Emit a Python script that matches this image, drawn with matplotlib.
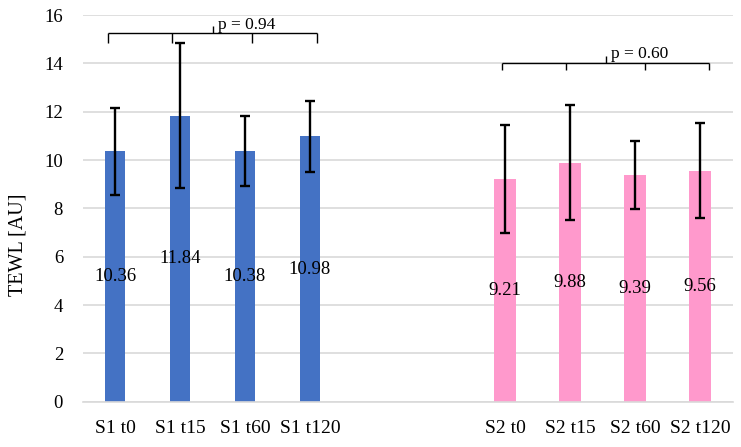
import numpy as np
import matplotlib.pyplot as plt

plt.rcParams['font.family'] = ['Liberation Serif', 'DejaVu Serif']

# data
labels = ["S1 t0", "S1 t15", "S1 t60", "S1 t120", "", "",
          "S2 t0", "S2 t15", "S2 t60", "S2 t120"]
s1_means = [10.36, 11.84, 10.38, 10.98]
s1_err = [1.80, 3.00, 1.45, 1.47]
s2_means = [9.21, 9.88, 9.39, 9.56]
s2_err = [2.23, 2.38, 1.41, 1.97]
p_values = ["p = 0.94", "p = 0.60"]

blue = "#4472C4"
pink = "#FF99CC"


def bracket(ax, x0, x1, ticks, y, drop, rise, text):
    kw = dict(color="black", lw=1.0, solid_capstyle="butt")
    ax.plot([x0, x1], [y, y], **kw)
    for xt in [x0, x1] + ticks:
        ax.plot([xt, xt], [y, y - drop], **kw)
    mid = (x0 + x1) / 2
    ax.plot([mid, mid], [y, y + rise], **kw)
    ax.text(mid + 0.08, y + 0.02, text, fontsize=12.5, ha="left", va="bottom")


def main():
    fig = plt.figure(figsize=(7.41, 4.47), dpi=100)
    ax = fig.add_axes([82.5 / 741, 45.3 / 447, 650 / 741, 386.7 / 447])

    x1 = np.arange(4)
    x2 = np.arange(6, 10)
    ekw = dict(ecolor="black", elinewidth=1.7, capsize=3.3, capthick=1.7)
    ax.bar(x1, s1_means, width=0.31, color=blue, yerr=s1_err, error_kw=ekw, zorder=2)
    ax.bar(x2, s2_means, width=0.33, color=pink, yerr=s2_err, error_kw=ekw, zorder=2)

    for xs, vals in [(x1, s1_means), (x2, s2_means)]:
        for x, v in zip(xs, vals):
            ax.text(x, v / 2, f"{v:.2f}", ha="center", va="center", fontsize=13.5, zorder=3)

    bracket(ax, -0.11, 3.11, [0.88, 2.11], 15.25, 0.4, 0.3, p_values[0])
    bracket(ax, 5.96, 9.14, [6.94, 8.16], 14.02, 0.3, 0.3, p_values[1])

    ax.set_xlim(-0.5, 9.5)
    ax.set_ylim(0, 16)
    ax.set_yticks(range(0, 17, 2))
    ax.set_xticks(range(10))
    ax.set_xticklabels(labels, fontsize=14)
    ax.tick_params(axis="y", labelsize=13.5, length=0, pad=14)
    ax.tick_params(axis="x", length=0, pad=13)
    ax.yaxis.grid(True, color="#D9D9D9", lw=1.2, zorder=0)
    ax.set_axisbelow(True)
    for s in ["top", "right", "left"]:
        ax.spines[s].set_visible(False)
    ax.spines["bottom"].set_color("#D9D9D9")
    ax.spines["bottom"].set_linewidth(1.2)

    fig.text(18 / 741, 1 - 245 / 447, "TEWL [AU]", rotation=90, ha="center", va="center", fontsize=14.5)

    fig.savefig("out.png", dpi=100)


if __name__ == "__main__":
    main()
